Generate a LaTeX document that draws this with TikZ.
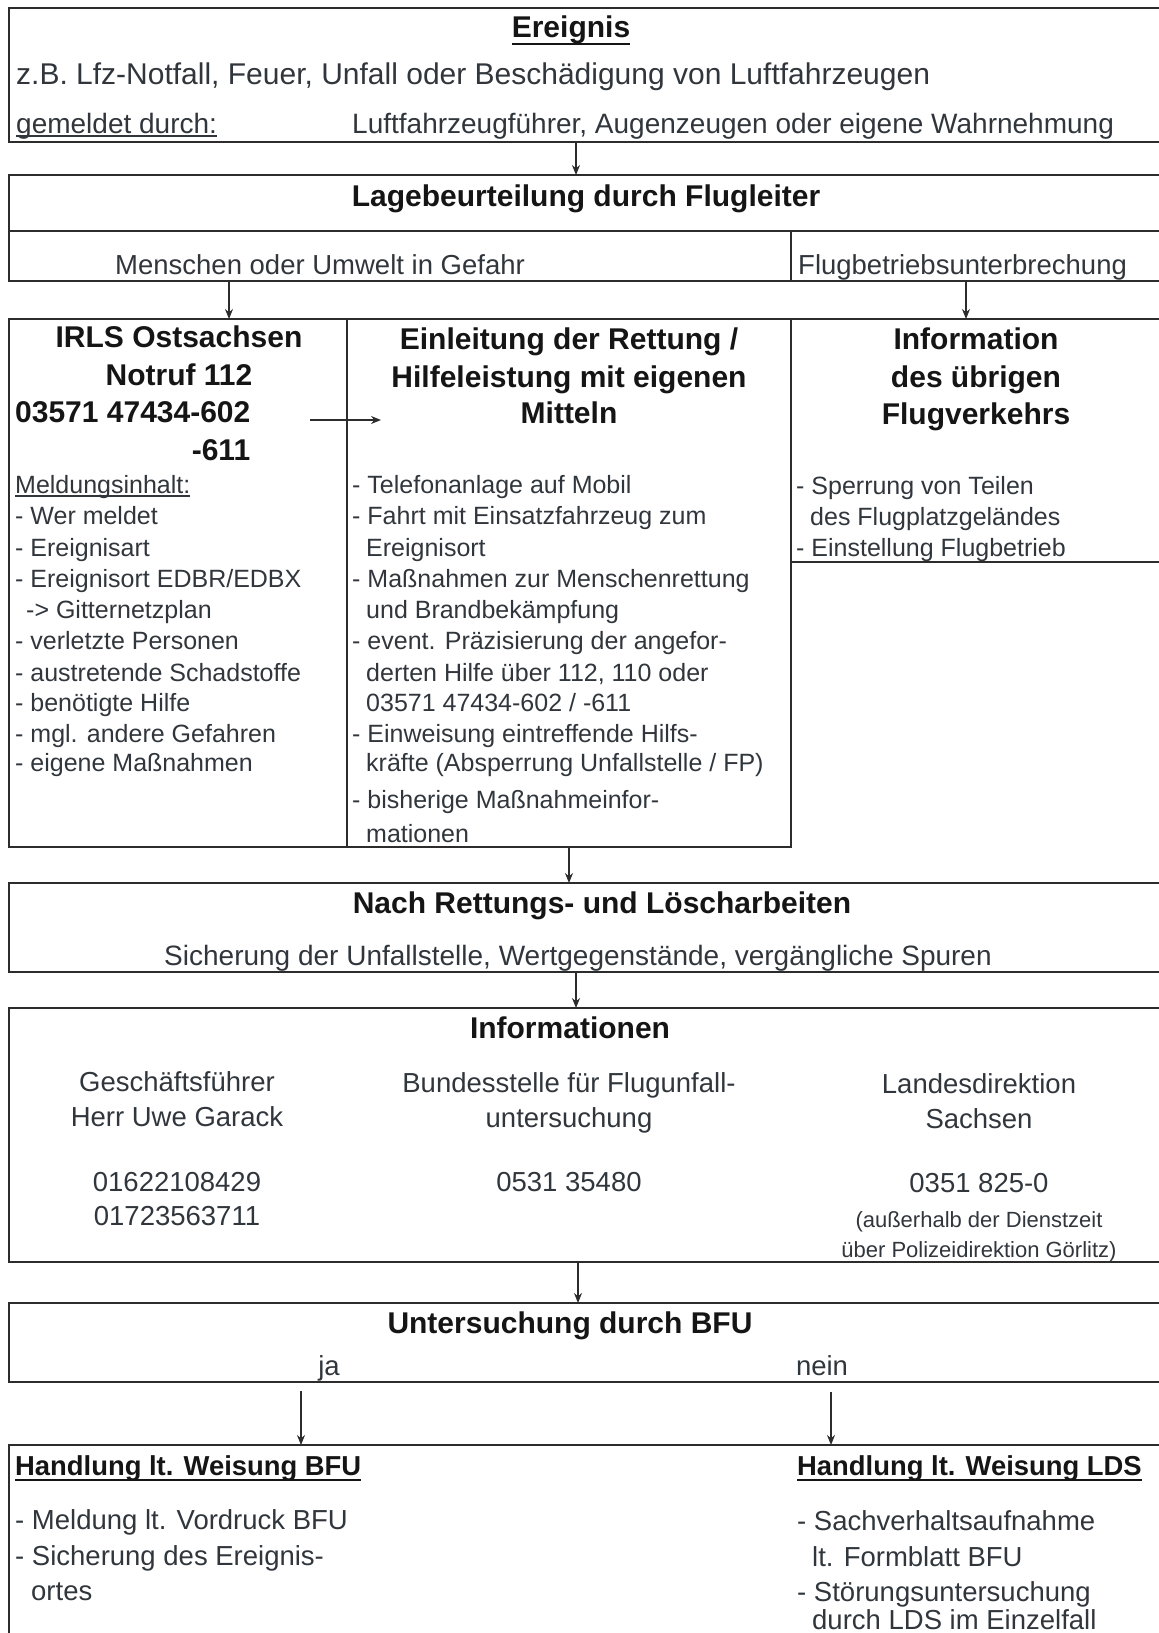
\documentclass[tikz,border=0pt]{standalone}
\usepackage{fontspec}
\setmainfont{Liberation Sans}
\usetikzlibrary{arrows.meta}
\definecolor{txt}{HTML}{30363C}
\definecolor{hd}{HTML}{151515}
\definecolor{ln}{HTML}{2C2C2C}
\newcommand\myul[2]{\setbox0\hbox{#2}\rlap{\rule[#1]{\wd0}{1.7pt}}\box0}
\tikzset{
 box/.style={draw=ln, line width=2.2pt, inner sep=0pt, outer sep=0pt, anchor=north west},
 arr/.style={draw=ln, line width=1.5pt, -{Stealth[length=10pt,width=8pt]}},
 tl/.style={inner sep=0pt, anchor=base west, text=txt},
 tc/.style={inner sep=0pt, anchor=base, text=txt},
 hc/.style={inner sep=0pt, anchor=base, text=hd, font=\bfseries\fontsize{30}{34}\selectfont},
 hl/.style={hc, anchor=base west},
 fa/.style={font=\fontsize{30}{34}\selectfont},
 fb/.style={font=\fontsize{28}{32}\selectfont},
 fc/.style={font=\fontsize{27.5}{32}\selectfont},
 fl/.style={font=\fontsize{25}{30}\selectfont},
 fs/.style={font=\fontsize{22}{26}\selectfont},
 fh/.style={inner sep=0pt, anchor=base west, text=hd, font=\bfseries\fontsize{27.4}{32}\selectfont},
}
\begin{document}
\begin{tikzpicture}[x=1pt,y=-1pt]
\useasboundingbox (0,0) rectangle (1159,1633);
\clip (0,0) rectangle (1159,1633);

% boxes
\node[box, minimum width=1166pt, minimum height=134pt] (ev) at (9,8) {};
\node[box, minimum width=1166pt, minimum height=106pt] (lage) at (9,175) {};
\node[box, minimum width=338pt, minimum height=528pt] (irls) at (9,319) {};
\node[box, minimum width=444pt, minimum height=528pt] (ein) at (347,319) {};
\node[box, minimum width=384pt, minimum height=243pt] (inf) at (791,319) {};
\node[box, minimum width=1166pt, minimum height=89pt] (nach) at (9,883) {};
\node[box, minimum width=1166pt, minimum height=254pt] (infos) at (9,1008) {};
\node[box, minimum width=1166pt, minimum height=79pt] (unt) at (9,1303) {};
\node[box, minimum width=1166pt, minimum height=260pt] (hand) at (9,1445) {};

% inner lines of box 2
\coordinate (m1) at (9,231);
\coordinate (m2) at (1175,231);
\coordinate (m3) at (791,231);
\draw[draw=ln, line width=2.2pt] (m1) -- (m2);
\draw[draw=ln, line width=2.2pt] (m3) -- (m3 |- lage.south);

% texts box 1
\node[hc] (tEv) at (571,37) {\myul{-8pt}{Ereignis}};
\node[tl, fa] (tZb) at (16,84) {z.B. Lfz-Notfall, Feuer, Unfall oder Beschädigung von Luftfahrzeugen};
\node[tl, fb] (tGem) at (16,133) {\myul{-4pt}{gemeldet durch:}};
\node[tl, fb] (tLuft) at (352,133) {Luftfahrzeugführer, Augenzeugen oder eigene Wahrnehmung};

% box 2
\node[hc] (tLage) at (586,206) {Lagebeurteilung durch Flugleiter};
\node[tl, fc] (tMen) at (115,274) {Menschen oder Umwelt in Gefahr};
\node[tl, fc] (tFlug) at (798,274) {Flugbetriebsunterbrechung};

% left column
\node[hc] (tIrls) at (179,347) {IRLS Ostsachsen};
\node[hc] (tNot) at (179,385) {Notruf 112};
\node[hl] (tTel) at (15,422) {03571 47434-602};
\node[hc] (t611) at (221,460) {-611};
\node[tl, fl] (tMeld) at (15,493) {\myul{-4pt}{Meldungsinhalt:}};
\node[tl, fl] (l1) at (15,524) {- Wer meldet};
\node[tl, fl] (l2) at (15,556) {- Ereignisart};
\node[tl, fl] (l3) at (15,587) {- Ereignisort EDBR/EDBX};
\node[tl, fl] (l4) at (26,618) {-> Gitternetzplan};
\node[tl, fl] (l5) at (15,649) {- verletzte Personen};
\node[tl, fl] (l6) at (15,681) {- austretende Schadstoffe};
\node[tl, fl] (l7) at (15,711) {- benötigte Hilfe};
\node[tl, fl] (l8) at (15,742) {- mgl. andere Gefahren};
\node[tl, fl] (l9) at (15,771) {- eigene Maßnahmen};

% middle column
\node[hc] (tE1) at (569,349) {Einleitung der Rettung /};
\node[hc] (tE2) at (569,387) {Hilfeleistung mit eigenen};
\node[hc] (tE3) at (569,423) {Mitteln};
\node[tl, fl] (e1) at (352,493) {- Telefonanlage auf Mobil};
\node[tl, fl] (e2) at (352,524) {- Fahrt mit Einsatzfahrzeug zum};
\node[tl, fl] (e3) at (366,556) {Ereignisort};
\node[tl, fl] (e4) at (352,587) {- Maßnahmen zur Menschenrettung};
\node[tl, fl] (e5) at (366,618) {und Brandbekämpfung};
\node[tl, fl] (e6) at (352,649) {- event. Präzisierung der angefor-};
\node[tl, fl] (e7) at (366,681) {derten Hilfe über 112, 110 oder};
\node[tl, fl] (e8) at (366,711) {03571 47434-602 / -611};
\node[tl, fl] (e9) at (352,742) {- Einweisung eintreffende Hilfs-};
\node[tl, fl] (e10) at (366,771) {kräfte (Absperrung Unfallstelle / FP)};
\node[tl, fl] (e11) at (352,808) {- bisherige Maßnahmeinfor-};
\node[tl, fl] (e12) at (366,842) {mationen};

% right column
\node[hc] (tI1) at (976,349) {Information};
\node[hc] (tI2) at (976,387) {des übrigen};
\node[hc] (tI3) at (976,424) {Flugverkehrs};
\node[tl, fl] (r1) at (796,494) {- Sperrung von Teilen};
\node[tl, fl] (r2) at (810,525) {des Flugplatzgeländes};
\node[tl, fl] (r3) at (796,556) {- Einstellung Flugbetrieb};

% box 4
\node[hc] (tNach) at (602,913) {Nach Rettungs- und Löscharbeiten};
\node[tc, fb] (tSich) at (578,965) {Sicherung der Unfallstelle, Wertgegenstände, vergängliche Spuren};

% box 5
\node[hc] (tInfos) at (570,1038) {Informationen};
\node[tc, fc] (g1) at (177,1091) {Geschäftsführer};
\node[tc, fc] (g2) at (177,1126) {Herr Uwe Garack};
\node[tc, fc] (g3) at (177,1191) {01622108429};
\node[tc, fc] (g4) at (177,1225) {01723563711};
\node[tc, fc] (b1) at (569,1092) {Bundesstelle für Flugunfall-};
\node[tc, fc] (b2) at (569,1127) {untersuchung};
\node[tc, fc] (b3) at (569,1191) {0531 35480};
\node[tc, fc] (d1) at (979,1093) {Landesdirektion};
\node[tc, fc] (d2) at (979,1128) {Sachsen};
\node[tc, fc] (d3) at (979,1192) {0351 825-0};
\node[tc, fs] (d4) at (979,1227) {(außerhalb der Dienstzeit};
\node[tc, fs] (d5) at (979,1257) {über Polizeidirektion Görlitz)};

% box 6
\node[hc] (tUnt) at (570,1333) {Untersuchung durch BFU};
\node[tc, fc] (tJa) at (329,1375) {ja};
\node[tc, fc] (tNein) at (822,1375) {nein};

% box 7
\node[fh] (tHB) at (15,1475) {\myul{-6pt}{Handlung lt. Weisung BFU}};
\node[fh] (tHL) at (797,1475) {\myul{-6pt}{Handlung lt. Weisung LDS}};
\node[tl, fc] (h1) at (15,1529) {- Meldung lt. Vordruck BFU};
\node[tl, fc] (h2) at (15,1565) {- Sicherung des Ereignis-};
\node[tl, fc] (h3) at (31,1600) {ortes};
\node[tl, fc] (k1) at (797,1530) {- Sachverhaltsaufnahme};
\node[tl, fc] (k2) at (812,1566) {lt. Formblatt BFU};
\node[tl, fc] (k3) at (797,1601) {- Störungsuntersuchung};
\node[tl, fc] (k4) at (812,1629) {durch LDS im Einzelfall};

% connectors
\coordinate (xa) at (576,0);
\coordinate (xb) at (229,0);
\coordinate (xc) at (966,0);
\coordinate (xd) at (569,0);
\coordinate (xe) at (576,0);
\coordinate (xf) at (578,0);
\draw[arr] (ev.south -| xa) -- (lage.north -| xa);
\draw[arr] (lage.south -| xb) -- (irls.north -| xb);
\draw[arr] (lage.south -| xc) -- (inf.north -| xc);
\coordinate (hs) at (310,420);
\coordinate (he) at (381,420);
\draw[arr] (hs) -- (he);
\draw[arr] (ein.south -| xd) -- (nach.north -| xd);
\draw[arr] (nach.south -| xe) -- (infos.north -| xe);
\draw[arr] (infos.south -| xf) -- (unt.north -| xf);
\coordinate (ja1) at (301,1391);
\coordinate (ja2) at (301,0);
\coordinate (ne1) at (831,1392);
\coordinate (ne2) at (831,0);
\draw[arr] (ja1) -- (hand.north -| ja2);
\draw[arr] (ne1) -- (hand.north -| ne2);
\end{tikzpicture}
\end{document}
